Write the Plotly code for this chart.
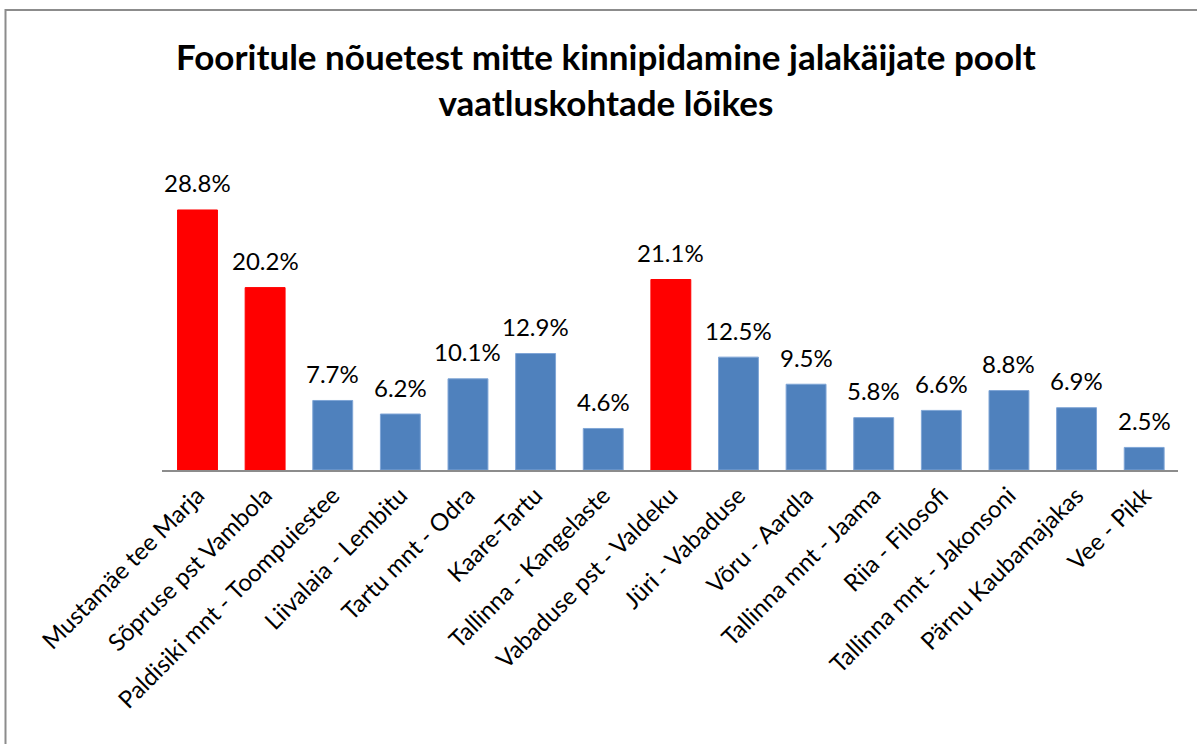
import plotly.graph_objects as go

categories = ["Mustamäe tee Marja", "Sõpruse pst Vambola", "Paldisiki mnt - Toompuiestee",
              "Liivalaia - Lembitu", "Tartu mnt - Odra", "Kaare-Tartu", "Tallinna - Kangelaste",
              "Vabaduse pst - Valdeku", "Jüri - Vabaduse", "Võru - Aardla", "Tallinna mnt - Jaama",
              "Riia - Filosofi", "Tallinna mnt - Jakonsoni", "Pärnu Kaubamajakas", "Vee - Pikk"]
values = [28.8, 20.2, 7.7, 6.2, 10.1, 12.9, 4.6, 21.1, 12.5, 9.5, 5.8, 6.6, 8.8, 6.9, 2.5]
highlight = [True, True, False, False, False, False, False, True,
             False, False, False, False, False, False, False]

RED = "#FF0000"
BLUE = "#4F81BD"
colors = [RED if h else BLUE for h in highlight]
line_colors = [RED if h else "#7FA5D6" for h in highlight]

W, H = 1197, 744
L, T = 162, 154
R = W - 1178
B = H - 470
FONT = "Lato"

fig = go.Figure()
fig.add_trace(go.Bar(
    x=categories, y=values,
    marker=dict(color=colors, line=dict(color=line_colors, width=1)),
    hoverinfo="x+y",
))

annotations = []
for c, v in zip(categories, values):
    annotations.append(dict(
        x=c, y=v, xref="x", yref="y", text=f"{v:.1f}%", showarrow=False,
        yanchor="middle", yshift=27, font=dict(family=FONT, size=24, color="#000000"),
    ))

pw, ph = W - L - R, H - T - B
def px(X):
    return (X - L) / pw
def py(Y):
    return (H - B - Y) / ph

annotations.append(dict(
    x=px(606), y=py(79), xref="paper", yref="paper", showarrow=False,
    xanchor="center", yanchor="middle",
    text="<b>Fooritule nõuetest mitte kinnipidamine jalakäijate poolt<br>vaatluskohtade lõikes</b>",
    font=dict(family=FONT, size=35, color="#000000"),
))

fig.update_layout(
    width=W, height=H,
    margin=dict(l=L, r=R, t=T, b=B, autoexpand=False),
    paper_bgcolor="white", plot_bgcolor="white",
    bargap=0.41,
    showlegend=False,
    annotations=annotations,
    shapes=[dict(type="rect", xref="paper", yref="paper",
                 x0=px(5.5), x1=px(1210), y0=py(10), y1=py(760),
                 line=dict(color="#8C8C8C", width=2), fillcolor="rgba(0,0,0,0)", layer="below")],
    xaxis=dict(showline=True, linecolor="#8C8C8C", linewidth=2, ticks="", tickangle=-45,
               tickfont=dict(family=FONT, size=24, color="#000000"), showgrid=False),
    yaxis=dict(range=[0, 35], visible=False, showgrid=False),
)

fig.write_html("out.html", config={"displayModeBar": False},
               post_script="document.body.style.margin='0';document.body.style.overflow='hidden';")
